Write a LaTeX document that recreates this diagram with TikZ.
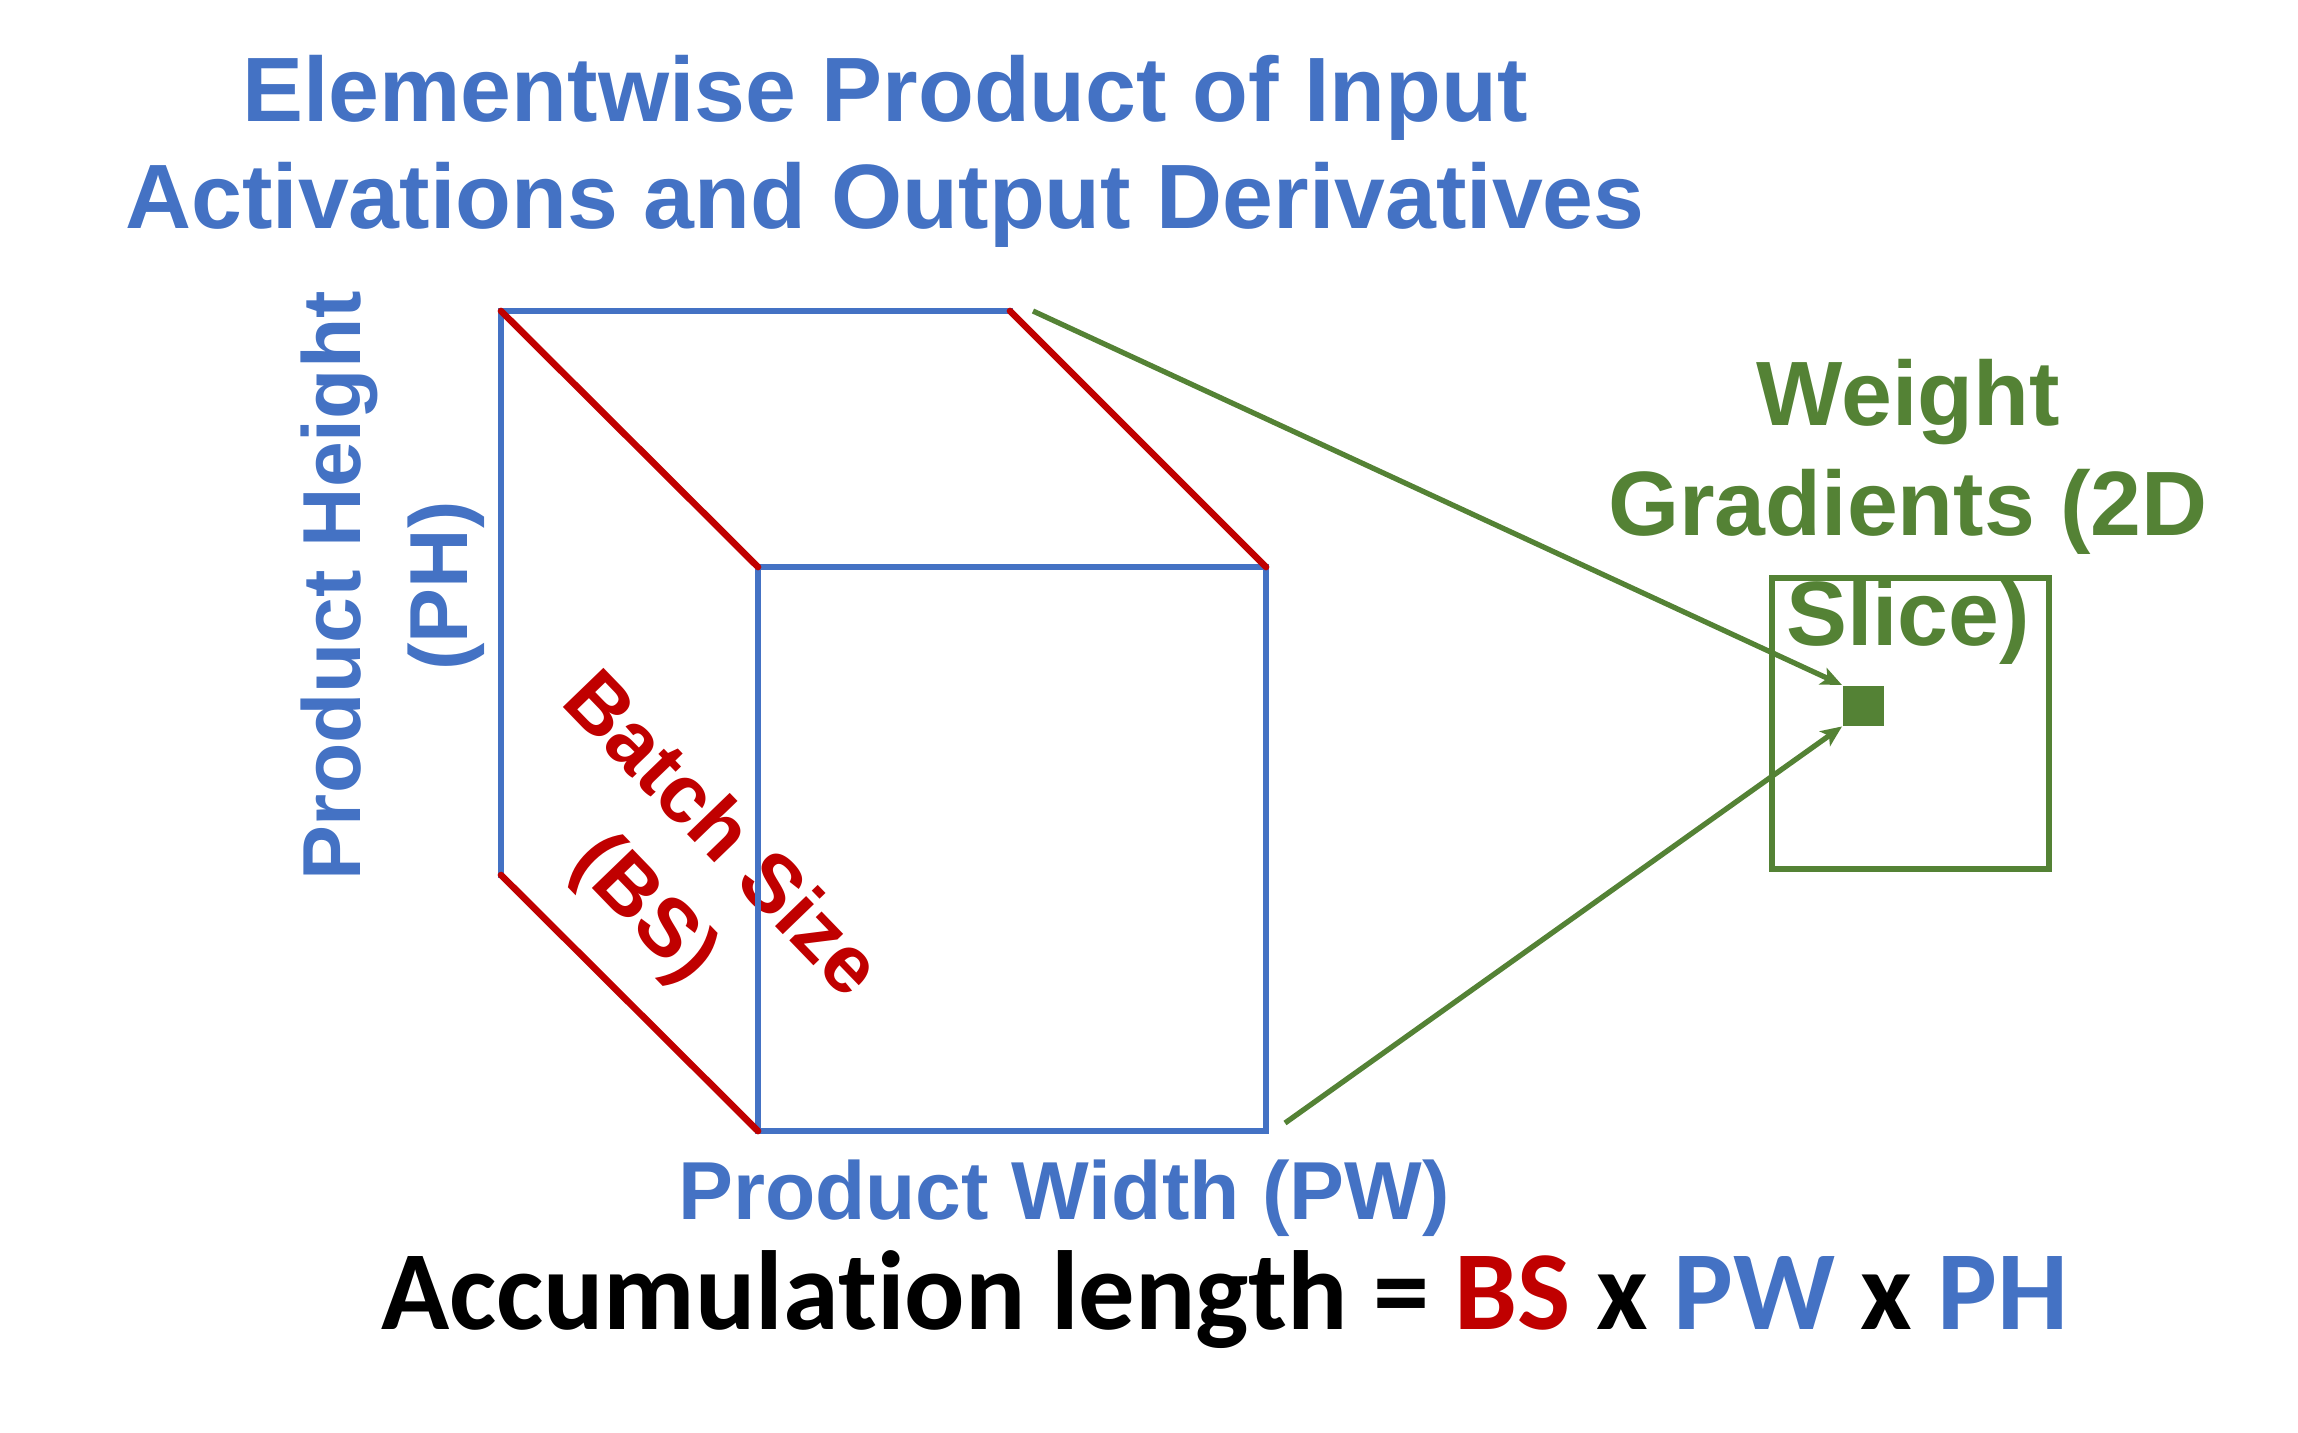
\documentclass[tikz,border=0pt]{standalone}
\usepackage{fontspec}
\setmainfont{Liberation Sans}
\newfontfamily\calibfont{Carlito}[Ligatures=NoCommon]
\usetikzlibrary{arrows.meta}

\definecolor{dimblue}{HTML}{4472C4}
\definecolor{bsred}{HTML}{C00000}
\definecolor{wgreen}{HTML}{548235}

\tikzset{
  edgeblue/.style={draw=dimblue, line width=1.9pt, line cap=rect},
  edgered/.style={draw=bsred, line width=1.9pt, line cap=round},
  feed/.style={draw=wgreen, line width=1.5pt,
    -{Stealth[length=0.21cm, width=0.18cm, inset=0.05cm]}},
  bigtitle/.style={text=dimblue, align=center, inner sep=0pt,
    font=\bfseries\fontsize{26}{30.4}\selectfont},
  axislabel/.style={text=dimblue, align=center, inner sep=0pt,
    font=\bfseries\fontsize{23.4}{30.4}\selectfont},
  batchlabel/.style={text=bsred, align=center, inner sep=0pt,
    font=\bfseries\fontsize{23.3}{30}\selectfont},
  gradlabel/.style={text=wgreen, align=center, inner sep=0pt,
    font=\bfseries\fontsize{26}{31.3}\selectfont},
}

\begin{document}
\begin{tikzpicture}[x=0.01cm, y=-0.01cm]
  \useasboundingbox (0,0) rectangle (2298,1432);

  % corners of the product volume
  \coordinate (btl) at (501,311);
  \coordinate (btr) at (1010,311);
  \coordinate (bbl) at (501,875);
  \coordinate (ftl) at (758,567);
  \coordinate (ftr) at (1266,567);
  \coordinate (fbl) at (758,1131);
  \coordinate (fbr) at (1266,1131);
  % where the two leader lines leave the volume
  \coordinate (topexit) at (1033,311);
  \coordinate (botexit) at (1285,1123);

  % heading
  \node[bigtitle] (title) at (885,151)
    {Elementwise Product of Input\\Activations and Output Derivatives};

  % batch dimension label, set along the depth edges
  \node[batchlabel, rotate=-46] (bs) at (681,874) {Batch Size\\(BS)};

  % the volume: back face (top and left edges) and front face
  \draw[edgeblue] (bbl) -- (btl) -- (btr);
  \draw[edgeblue] (ftl) rectangle (fbr);
  % depth edges
  \draw[edgered] (btl) -- (ftl);
  \draw[edgered] (btr) -- (ftr);
  \draw[edgered] (bbl) -- (fbl);

  % axis labels
  \node[axislabel, rotate=90] (ph) at (393,586) {Product Height\\(PH)};
  \node[axislabel, anchor=base] (pw) at (1064,1219) {Product Width (PW)};

  % weight gradient slice with one highlighted element
  \draw[draw=wgreen, line width=1.8pt] (1772,578) rectangle (2049,869);
  \node[gradlabel] (wg) at (1908,512) {Weight\\Gradients (2D\\Slice)};
  \node[fill=wgreen, inner sep=0pt, minimum width=0.41cm, minimum height=0.40cm,
        anchor=north west] (cell) at (1842,685) {};

  \draw[feed] (topexit) -- (cell.north west);
  \draw[feed] (botexit) -- (cell.south west);

  % reduction length
  \node[anchor=base, inner sep=0pt, font=\calibfont\bfseries\fontsize{32}{36}\selectfont]
    (acc) at (1225,1329)
    {Accumulation length = \textcolor{bsred}{BS} x \textcolor{dimblue}{PW} x \textcolor{dimblue}{PH}};
\end{tikzpicture}
\end{document}
